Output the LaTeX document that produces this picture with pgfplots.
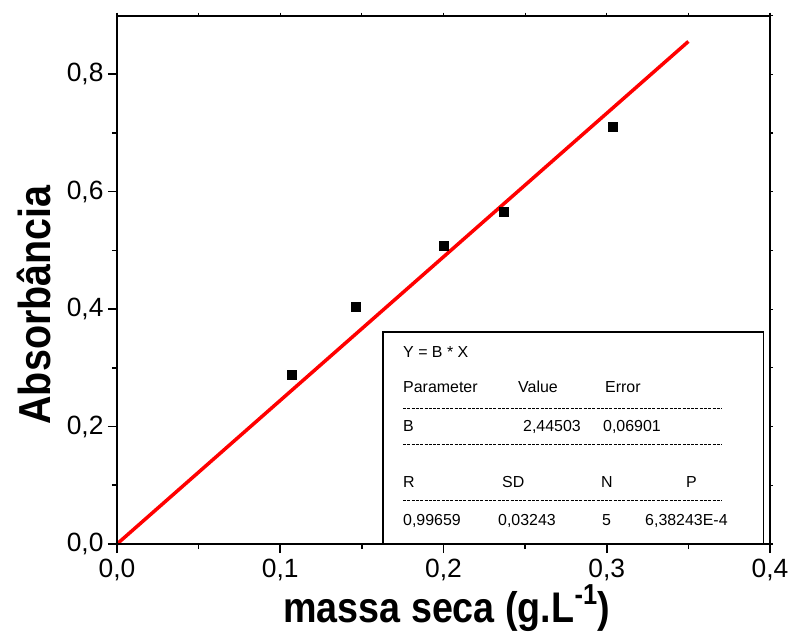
\documentclass[border=0pt]{standalone}
\usepackage{pgfplots}
\pgfplotsset{compat=1.18}
\usepackage{fontspec}
\setmainfont{Liberation Sans}
\newfontfamily\labelfont[FakeStretch=0.88]{Liberation Sans}
\begin{document}
\begin{tikzpicture}
\useasboundingbox (-117bp,-90bp) rectangle (676bp,544bp);
\begin{axis}[
  at={(0,0)}, anchor=south west,
  scale only axis, width=653bp, height=528.5bp,
  xmin=0, xmax=0.4, ymin=0, ymax=0.9,
  xtick={0,0.1,0.2,0.3,0.4}, ytick={0,0.2,0.4,0.6,0.8},
  minor xtick={0.05,0.15,0.25,0.35}, minor ytick={0.1,0.3,0.5,0.7},
  xtick pos=bottom, ytick pos=left, tick align=outside,
  major tick length=9bp, minor tick length=5bp,
  every tick/.style={black, line width=1.6bp},
  axis line style={line width=2bp},
  /pgf/number format/assume math mode=true,
  /pgf/number format/use comma, /pgf/number format/fixed, /pgf/number format/fixed zerofill, /pgf/number format/precision=1,
  ticklabel style={font=\fontsize{26.5}{30}\selectfont},
  xticklabel style={yshift=-3bp},
  yticklabel style={xshift=-1bp},
  xlabel={\bfseries massa seca (g.L\raisebox{0.42em}{\fontsize{29}{30}\selectfont -1})},
  ylabel={\bfseries Absorbância},
  label style={font=\labelfont\fontsize{43}{48}\selectfont},
  xlabel style={at={(axis description cs:0.5,0)}, anchor=base, yshift=-78bp, xshift=3bp},
  ylabel style={at={(axis description cs:-0.1026,0.4522)}, anchor=base, rotate=0, font=\labelfont\fontsize{45}{48}\selectfont},
  clip=false,
]
\addplot[red, line width=3.5bp] coordinates {(0,0) (0.35,0.85576)};
\addplot[only marks, mark=square*, mark size=4.5bp, black] coordinates {
(0.1068,0.2878) (0.1464,0.4040) (0.1999,0.5083) (0.2371,0.5663) (0.3034,0.7101)};
\end{axis}
\begin{axis}[
  at={(0,0)}, anchor=south west,
  scale only axis, width=653bp, height=528.5bp,
  xmin=0, xmax=0.4, ymin=0, ymax=0.9,
  xtick={0,0.05,...,0.4}, ytick={0,0.1,...,0.9},
  xtick pos=top, ytick pos=right, tick align=outside,
  major tick length=3bp,
  every tick/.style={black, line width=1.2bp},
  xticklabels={}, yticklabels={},
  axis line style={line width=2bp},
]
\end{axis}
\draw[line width=1.8bp] (266bp,0bp) rectangle (646.5bp,212bp);
\begin{scope}[every node/.style={anchor=base west, inner sep=0pt, font=\fontsize{16}{18}\selectfont}]
\node at (286bp,186bp) {Y = B * X};
\node at (286bp,151bp) {Parameter};
\node at (401bp,151bp) {Value};
\node at (488bp,151bp) {Error};
\node at (286bp,112bp) {B};
\node at (406bp,112bp) {2,44503};
\node at (486bp,112bp) {0,06901};
\node at (286bp,56bp) {R};
\node at (385bp,56bp) {SD};
\node at (484bp,56bp) {N};
\node at (569bp,56bp) {P};
\node at (286bp,19bp) {0,99659};
\node at (381bp,19bp) {0,03243};
\node at (485bp,19bp) {5};
\node at (528bp,19bp) {6,38243E-4};
\end{scope}
\begin{scope}[line width=0.8bp, dash pattern=on 3bp off 1.3bp]
\draw (286bp,136bp) -- (605bp,136bp);
\draw (286bp,100bp) -- (605bp,100bp);
\draw (286bp,44bp) -- (605bp,44bp);
\end{scope}
\end{tikzpicture}
\end{document}
